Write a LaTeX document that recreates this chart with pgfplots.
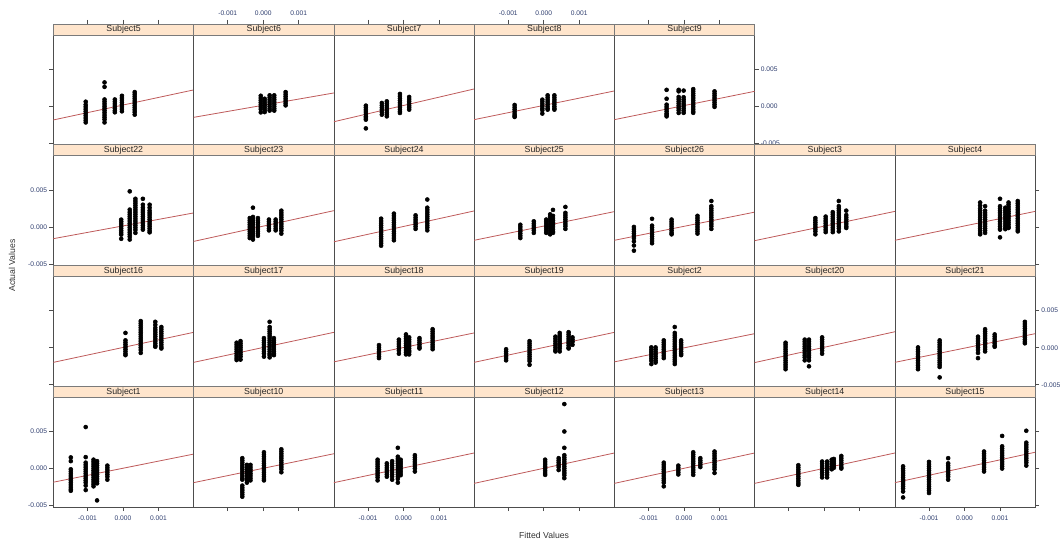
\documentclass[border=0pt]{standalone}
\usepackage{fontspec}
\setmainfont{Liberation Sans}
\usepackage{pgfplots}
\pgfplotsset{compat=1.18}
\definecolor{stripf}{HTML}{FFE5CC}
\definecolor{stripb}{HTML}{7A7A7A}
\definecolor{regline}{HTML}{BE5A5A}
\definecolor{frame}{HTML}{4D4D4D}
\definecolor{tlab}{HTML}{2E3D6E}
% values are in units of 1e-3 (tick labels written in original units)
\pgfplotsset{
 panel/.style={scale only axis, width=105.19pt, height=82.28pt, anchor=south west,
  xmin=-1.96, xmax=1.99, ymin=-5.2, ymax=9.6,
  xtick={-1,0,1}, ytick={-5,0,5}, xticklabels={}, yticklabels={},
  tick align=outside, major tick length=3pt,
  axis line style={frame, line width=0.6pt}, every tick/.style={frame, line width=0.5pt},
  tick label style={font=\fontsize{5}{6}\selectfont, text=tlab},
  xticklabel style={inner sep=1.5pt}, yticklabel style={inner sep=1.5pt},
  clip=false},
 noX/.style={xtick=\empty},
 noY/.style={ytick=\empty},
 tT/.style={xtick pos=top, xtick style={yshift=8.25pt}},
 tL/.style={xtick pos=top, xtick style={yshift=8.25pt}, xticklabel pos=top, xticklabel shift=10.2pt, xticklabels={-0.001,0.000,0.001}},
 bT/.style={xtick pos=bottom},
 bL/.style={xtick pos=bottom, xticklabel pos=bottom, xticklabel shift=2.2pt, xticklabels={-0.001,0.000,0.001}},
 lT/.style={ytick pos=left},
 lL/.style={ytick pos=left, yticklabel pos=left, yticklabels={-0.005,0.000,0.005}},
 rT/.style={ytick pos=right},
 rL/.style={ytick pos=right, yticklabel pos=right, yticklabels={-0.005,0.000,0.005}},
}
\newcommand{\panel}[6]{%
\begin{axis}[panel, at={(#1,#2)}, #4,
  extra description/.code={\draw[stripb, fill=stripf, line width=0.5pt] (0,1) rectangle (1,1.1003);
  \node[font=\fontsize{6.6}{7}\selectfont, inner sep=0pt, text=black!85] at (0.5,1.0501) {#3};}]
\addplot[only marks, mark=*, mark size=1.5pt, black] coordinates {#6};
\addplot[regline, line width=0.6pt] coordinates {#5};
\end{axis}}
\begin{document}
\begin{tikzpicture}
\path (0,0) rectangle (798pt,408pt);
% ---------------- row 1 ----------------
\panel{40.05pt}{299.48pt}{Subject5}{tT,lT}{(-1.96,-1.86)(1.99,2.19)}{
(-1.05,0.6)(-1.05,0.2)(-1.05,-0.1)(-1.05,-0.4)(-1.05,-0.7)(-1.05,-1.0)(-1.05,-1.3)(-1.05,-1.6)(-1.05,-1.9)(-1.05,-2.2)
(-0.52,3.2)(-0.52,2.6)(-0.52,0.9)(-0.52,0.6)(-0.52,0.3)(-0.52,0)(-0.52,-0.3)(-0.52,-0.6)(-0.52,-0.9)(-0.52,-1.2)(-0.52,-1.5)(-0.52,-1.8)(-0.52,-2.2)
(-0.23,0.9)(-0.23,0.6)(-0.23,0.3)(-0.23,0)(-0.23,-0.3)(-0.23,-0.6)(-0.23,-0.83)
(-0.03,1.4)(-0.03,1.1)(-0.03,0.8)(-0.03,0.5)(-0.03,0.2)(-0.03,-0.1)(-0.03,-0.4)(-0.03,-0.7)
(0.33,1.9)(0.33,1.6)(0.33,1.3)(0.33,1.0)(0.33,0.7)(0.33,0.4)(0.33,0.1)(0.33,-0.2)(0.33,-0.5)(0.33,-0.8)(0.33,-1.15)}
\panel{145.24pt}{299.48pt}{Subject6}{tL,noY}{(-1.96,-1.51)(1.99,1.78)}{
(-0.07,1.4)(-0.07,1.1)(-0.07,0.8)(-0.07,0.5)(-0.07,0.2)(-0.07,-0.1)(-0.07,-0.4)(-0.07,-0.84)
(0.04,1.0)(0.04,0.7)(0.04,0.4)(0.04,0.1)(0.04,-0.2)(0.04,-0.5)(0.04,-0.8)
(0.18,1.46)(0.18,1.15)(0.18,0.85)(0.18,0.55)(0.18,0.25)(0.18,-0.05)(0.18,-0.35)(0.18,-0.6)
(0.31,1.46)(0.31,1.15)(0.31,0.85)(0.31,0.55)(0.31,0.25)(0.31,-0.05)(0.31,-0.35)(0.31,-0.6)
(0.63,1.9)(0.63,1.6)(0.63,1.3)(0.63,1.0)(0.63,0.7)(0.63,0.4)(0.63,0.1)}
\panel{250.43pt}{299.48pt}{Subject7}{tT,noY}{(-1.96,-2.1)(1.99,2.32)}{
(-1.06,0.07)(-1.06,-0.2)(-1.06,-0.5)(-1.06,-0.8)(-1.06,-1.1)(-1.06,-1.4)(-1.06,-1.6)(-1.06,-1.82)(-1.06,-3.0)
(-0.61,0.43)(-0.61,0.1)(-0.61,-0.2)(-0.61,-0.5)(-0.61,-0.8)(-0.61,-1.15)
(-0.47,0.65)(-0.47,0.35)(-0.47,0.05)(-0.47,-0.25)(-0.47,-0.55)(-0.47,-0.85)(-0.47,-1.1)(-0.47,-1.38)
(-0.10,1.65)(-0.10,1.35)(-0.10,1.05)(-0.10,0.75)(-0.10,0.45)(-0.10,0.15)(-0.10,-0.15)(-0.10,-0.45)(-0.10,-0.7)(-0.10,-0.92)
(0.16,1.24)(0.16,0.95)(0.16,0.65)(0.16,0.35)(0.16,0.05)(0.16,-0.2)(0.16,-0.47)}
\panel{355.61pt}{299.48pt}{Subject8}{tL,noY}{(-1.96,-1.82)(1.99,2.05)}{
(-0.82,0.16)(-0.82,-0.15)(-0.82,-0.45)(-0.82,-0.75)(-0.82,-1.05)(-0.82,-1.3)(-0.82,-1.46)
(-0.04,0.88)(-0.04,0.6)(-0.04,0.3)(-0.04,0)(-0.04,-0.3)(-0.04,-0.55)(-0.04,-1.0)
(0.11,1.46)(0.11,1.15)(0.11,0.85)(0.11,0.55)(0.11,0.25)(0.11,-0.05)(0.11,-0.3)(0.11,-0.47)
(0.30,1.46)(0.30,1.15)(0.30,0.85)(0.30,0.55)(0.30,0.25)(0.30,-0.05)(0.30,-0.3)(0.30,-0.47)}
\panel{460.8pt}{299.48pt}{Subject9}{tT,rL}{(-1.96,-1.82)(1.99,2.0)}{
(-0.49,2.2)(-0.49,1.0)(-0.49,0.2)(-0.49,-0.1)(-0.49,-0.4)(-0.49,-0.7)(-0.49,-1.0)(-0.49,-1.2)(-0.49,-1.38)
(-0.15,2.2)(-0.15,2.0)(-0.15,1.24)(-0.15,0.95)(-0.15,0.65)(-0.15,0.35)(-0.15,0.05)(-0.15,-0.25)(-0.15,-0.55)(-0.15,-0.92)
(-0.01,2.1)(-0.01,1.2)(-0.01,0.9)(-0.01,0.6)(-0.01,0.3)(-0.01,0)(-0.01,-0.3)(-0.01,-0.6)(-0.01,-0.9)
(0.26,2.3)(0.26,2.0)(0.26,1.7)(0.26,1.4)(0.26,1.1)(0.26,0.8)(0.26,0.5)(0.26,0.2)(0.26,-0.1)(0.26,-0.4)(0.26,-0.7)(0.26,-0.9)
(0.86,2.0)(0.86,1.7)(0.86,1.4)(0.86,1.1)(0.86,0.8)(0.86,0.5)(0.86,0.2)(0.86,-0.1)}
% ---------------- row 2 ----------------
\panel{40.05pt}{208.88pt}{Subject22}{noX,lL}{(-1.96,-1.58)(1.99,1.89)}{
(-0.05,0.99)(-0.05,0.7)(-0.05,0.4)(-0.05,0.1)(-0.05,-0.2)(-0.05,-0.5)(-0.05,-0.8)(-0.05,-1.04)(-0.05,-1.6)
(0.19,4.8)(0.19,2.34)(0.19,2.0)(0.19,1.7)(0.19,1.4)(0.19,1.1)(0.19,0.8)(0.19,0.5)(0.19,0.2)(0.19,-0.1)(0.19,-0.4)(0.19,-0.7)(0.19,-1.0)(0.19,-1.3)(0.19,-1.7)
(0.35,3.8)(0.35,3.5)(0.35,3.2)(0.35,2.9)(0.35,2.6)(0.35,2.3)(0.35,2.0)(0.35,1.7)(0.35,1.4)(0.35,1.1)(0.35,0.8)(0.35,0.5)(0.35,0.2)(0.35,-0.1)(0.35,-0.4)(0.35,-0.8)
(0.56,3.8)(0.56,3.0)(0.56,2.6)(0.56,2.3)(0.56,2.0)(0.56,1.7)(0.56,1.4)(0.56,1.1)(0.56,0.8)(0.56,0.5)(0.56,0.2)(0.56,-0.1)(0.56,-0.36)
(0.75,3.0)(0.75,2.6)(0.75,2.2)(0.75,1.9)(0.75,1.6)(0.75,1.3)(0.75,1.0)(0.75,0.7)(0.75,0.4)(0.75,0.1)(0.75,-0.2)(0.75,-0.5)(0.75,-0.73)}
\panel{145.24pt}{208.88pt}{Subject23}{noX,noY}{(-1.96,-1.95)(1.99,2.2)}{
(-0.38,1.2)(-0.38,0.9)(-0.38,0.6)(-0.38,0.3)(-0.38,0)(-0.38,-0.3)(-0.38,-0.6)(-0.38,-0.9)(-0.38,-1.2)(-0.38,-1.5)
(-0.29,2.6)(-0.29,1.35)(-0.29,1.05)(-0.29,0.75)(-0.29,0.45)(-0.29,0.15)(-0.29,-0.15)(-0.29,-0.45)(-0.29,-0.75)(-0.29,-1.05)(-0.29,-1.35)(-0.29,-1.7)
(-0.15,1.2)(-0.15,0.9)(-0.15,0.6)(-0.15,0.3)(-0.15,0)(-0.15,-0.3)(-0.15,-0.6)(-0.15,-0.9)(-0.15,-1.2)
(0.16,1.0)(0.16,0.7)(0.16,0.4)(0.16,0.1)(0.16,-0.2)(0.16,-0.46)
(0.35,1.0)(0.35,0.7)(0.35,0.4)(0.35,0.1)(0.35,-0.2)(0.35,-0.46)
(0.51,2.2)(0.51,1.9)(0.51,1.6)(0.51,1.3)(0.51,1.0)(0.51,0.7)(0.51,0.4)(0.51,0.1)(0.51,-0.2)(0.51,-0.5)(0.51,-0.9)}
\panel{250.43pt}{208.88pt}{Subject24}{noX,noY}{(-1.96,-2.0)(1.99,2.16)}{
(-0.63,1.12)(-0.63,0.8)(-0.63,0.5)(-0.63,0.2)(-0.63,-0.1)(-0.63,-0.4)(-0.63,-0.7)(-0.63,-1.0)(-0.63,-1.3)(-0.63,-1.6)(-0.63,-1.9)(-0.63,-2.2)(-0.63,-2.53)
(-0.27,1.8)(-0.27,1.5)(-0.27,1.2)(-0.27,0.9)(-0.27,0.6)(-0.27,0.3)(-0.27,0)(-0.27,-0.3)(-0.27,-0.6)(-0.27,-0.9)(-0.27,-1.2)(-0.27,-1.5)(-0.27,-1.8)
(0.34,1.57)(0.34,1.25)(0.34,0.95)(0.34,0.65)(0.34,0.35)(0.34,0.05)(0.34,-0.27)
(0.67,3.7)(0.67,2.6)(0.67,2.3)(0.67,2.0)(0.67,1.7)(0.67,1.4)(0.67,1.1)(0.67,0.8)(0.67,0.5)(0.67,0.2)(0.67,-0.1)(0.67,-0.46)}
\panel{355.61pt}{208.88pt}{Subject25}{noX,noY}{(-1.96,-1.8)(1.99,2.07)}{
(-0.66,0.3)(-0.66,0)(-0.66,-0.3)(-0.66,-0.6)(-0.66,-0.9)(-0.66,-1.2)(-0.66,-1.5)
(-0.28,0.76)(-0.28,0.45)(-0.28,0.15)(-0.28,-0.15)(-0.28,-0.45)(-0.28,-0.8)
(0.07,1.0)(0.07,0.7)(0.07,0.4)(0.07,0.1)(0.07,-0.2)(0.07,-0.5)(0.07,-0.8)
(0.18,1.7)(0.18,1.4)(0.18,1.1)(0.18,0.8)(0.18,0.5)(0.18,0.2)(0.18,-0.1)(0.18,-0.4)(0.18,-0.7)(0.18,-1.0)
(0.26,2.3)(0.26,1.5)(0.26,1.2)(0.26,0.9)(0.26,0.6)(0.26,0.3)(0.26,0)(0.26,-0.3)(0.26,-0.6)(0.26,-0.8)
(0.61,2.7)(0.61,1.9)(0.61,1.6)(0.61,1.3)(0.61,1.0)(0.61,0.7)(0.61,0.4)(0.61,0.1)(0.61,-0.27)}
\panel{460.8pt}{208.88pt}{Subject26}{noX,noY}{(-1.96,-1.8)(1.99,2.0)}{
(-1.41,0)(-1.41,-0.3)(-1.41,-0.6)(-1.41,-0.9)(-1.41,-1.2)(-1.41,-1.5)(-1.41,-1.94)(-1.41,-2.5)(-1.41,-3.2)
(-0.90,1.1)(-0.90,0.18)(-0.90,-0.1)(-0.90,-0.4)(-0.90,-0.7)(-0.90,-1.0)(-0.90,-1.3)(-0.90,-1.6)(-0.90,-1.9)(-0.90,-2.2)
(-0.35,1.0)(-0.35,0.7)(-0.35,0.4)(-0.35,0.1)(-0.35,-0.2)(-0.35,-0.5)(-0.35,-0.8)(-0.35,-1.0)
(0.38,1.5)(0.38,1.2)(0.38,0.9)(0.38,0.6)(0.38,0.3)(0.38,0)(0.38,-0.3)(0.38,-0.6)(0.38,-0.9)
(0.77,3.5)(0.77,2.8)(0.77,2.5)(0.77,2.2)(0.77,1.9)(0.77,1.6)(0.77,1.3)(0.77,1.0)(0.77,0.7)(0.77,0.4)(0.77,0.1)(0.77,-0.27)}
\panel{565.99pt}{208.88pt}{Subject3}{noX,noY}{(-1.96,-1.85)(1.99,2.1)}{
(-0.25,1.2)(-0.25,0.9)(-0.25,0.6)(-0.25,0.3)(-0.25,0)(-0.25,-0.3)(-0.25,-0.6)(-0.25,-1.0)
(0.04,1.4)(0.04,1.1)(0.04,0.8)(0.04,0.5)(0.04,0.2)(0.04,-0.1)(0.04,-0.4)(0.04,-0.7)
(0.24,2.0)(0.24,1.7)(0.24,1.4)(0.24,1.1)(0.24,0.8)(0.24,0.5)(0.24,0.2)(0.24,-0.1)(0.24,-0.4)(0.24,-0.7)
(0.41,3.5)(0.41,2.8)(0.41,2.5)(0.41,2.2)(0.41,1.9)(0.41,1.6)(0.41,1.3)(0.41,1.0)(0.41,0.7)(0.41,0.4)(0.41,0.1)(0.41,-0.2)(0.41,-0.6)
(0.62,2.2)(0.62,1.6)(0.62,1.3)(0.62,1.0)(0.62,0.7)(0.62,0.4)(0.62,0.1)(0.62,-0.14)}
\panel{671.18pt}{208.88pt}{Subject4}{noX,rT}{(-1.96,-1.8)(1.99,2.1)}{
(0.44,3.3)(0.44,2.9)(0.44,2.5)(0.44,2.2)(0.44,1.9)(0.44,1.6)(0.44,1.3)(0.44,1.0)(0.44,0.7)(0.44,0.4)(0.44,0.1)(0.44,-0.2)(0.44,-0.5)(0.44,-0.8)(0.44,-1.0)
(0.58,2.8)(0.58,2.2)(0.58,1.9)(0.58,1.6)(0.58,1.3)(0.58,1.0)(0.58,0.7)(0.58,0.4)(0.58,0.1)(0.58,-0.2)(0.58,-0.5)(0.58,-0.8)
(1.00,3.8)(1.00,2.8)(1.00,2.5)(1.00,2.2)(1.00,1.9)(1.00,1.6)(1.00,1.3)(1.00,1.0)(1.00,0.7)(1.00,0.4)(1.00,0.1)(1.00,-0.2)(1.00,-0.36)(1.00,-1.4)
(1.15,2.6)(1.15,2.3)(1.15,2.0)(1.15,1.7)(1.15,1.4)(1.15,1.1)(1.15,0.8)(1.15,0.5)(1.15,0.2)(1.15,-0.1)(1.15,-0.3)
(1.24,3.3)(1.24,3.0)(1.24,2.7)(1.24,2.4)(1.24,2.1)(1.24,1.8)(1.24,1.5)(1.24,1.2)(1.24,0.9)(1.24,0.6)(1.24,0.3)(1.24,0)(1.24,-0.14)
(1.50,3.5)(1.50,3.2)(1.50,2.9)(1.50,2.6)(1.50,2.3)(1.50,2.0)(1.50,1.7)(1.50,1.4)(1.50,1.1)(1.50,0.8)(1.50,0.5)(1.50,0.2)(1.50,-0.1)(1.50,-0.4)(1.50,-0.6)}
% ---------------- row 3 ----------------
\panel{40.05pt}{118.28pt}{Subject16}{noX,lT}{(-1.96,-1.97)(1.99,2.08)}{
(0.07,2.0)(0.07,1.0)(0.07,0.7)(0.07,0.4)(0.07,0.1)(0.07,-0.2)(0.07,-0.5)(0.07,-0.8)(0.07,-1.0)
(0.50,3.6)(0.50,3.3)(0.50,3.0)(0.50,2.7)(0.50,2.4)(0.50,2.1)(0.50,1.8)(0.50,1.5)(0.50,1.2)(0.50,0.9)(0.50,0.6)(0.50,0.3)(0.50,0)(0.50,-0.3)(0.50,-0.7)
(0.91,3.5)(0.91,3.1)(0.91,2.7)(0.91,2.4)(0.91,2.1)(0.91,1.8)(0.91,1.5)(0.91,1.2)(0.91,0.9)(0.91,0.6)(0.91,0.3)(0.91,0.13)
(1.08,2.8)(1.08,2.5)(1.08,2.2)(1.08,1.9)(1.08,1.6)(1.08,1.3)(1.08,1.0)(1.08,0.7)(1.08,0.4)(1.08,0.1)(1.08,-0.1)}
\panel{145.24pt}{118.28pt}{Subject17}{noX,noY}{(-1.96,-1.97)(1.99,2.08)}{
(-0.75,0.68)(-0.75,0.4)(-0.75,0.1)(-0.75,-0.2)(-0.75,-0.5)(-0.75,-0.8)(-0.75,-1.1)(-0.75,-1.4)(-0.75,-1.66)
(-0.64,0.9)(-0.64,0.6)(-0.64,0.3)(-0.64,0)(-0.64,-0.3)(-0.64,-0.6)(-0.64,-0.9)(-0.64,-1.2)(-0.64,-1.6)
(0.02,1.3)(0.02,1.0)(0.02,0.7)(0.02,0.4)(0.02,0.1)(0.02,-0.2)(0.02,-0.5)(0.02,-0.8)(0.02,-1.2)
(0.18,3.5)(0.18,2.8)(0.18,2.5)(0.18,2.2)(0.18,1.9)(0.18,1.6)(0.18,1.3)(0.18,1.0)(0.18,0.7)(0.18,0.4)(0.18,0.1)(0.18,-0.2)(0.18,-0.5)(0.18,-0.8)(0.18,-1.0)(0.18,-1.3)
(0.30,1.3)(0.30,1.0)(0.30,0.7)(0.30,0.4)(0.30,0.1)(0.30,-0.2)(0.30,-0.5)(0.30,-0.8)(0.30,-1.0)}
\panel{250.43pt}{118.28pt}{Subject18}{noX,noY}{(-1.96,-1.9)(1.99,2.0)}{
(-0.69,0.36)(-0.69,0.05)(-0.69,-0.25)(-0.69,-0.55)(-0.69,-0.85)(-0.69,-1.15)(-0.69,-1.4)
(-0.13,1.1)(-0.13,0.8)(-0.13,0.5)(-0.13,0.2)(-0.13,-0.1)(-0.13,-0.4)(-0.13,-0.8)
(0.07,1.8)(0.07,1.5)(0.07,1.2)(0.07,0.9)(0.07,0.6)(0.07,0.3)(0.07,0)(0.07,-0.3)(0.07,-0.6)(0.07,-0.9)
(0.16,1.4)(0.16,1.1)(0.16,0.8)(0.16,0.5)(0.16,0.2)(0.16,-0.1)(0.16,-0.4)(0.16,-0.6)(0.16,-0.9)
(0.45,1.3)(0.45,1.0)(0.45,0.7)(0.45,0.4)(0.45,0.1)(0.45,-0.1)
(0.82,2.5)(0.82,2.2)(0.82,1.9)(0.82,1.6)(0.82,1.3)(0.82,1.0)(0.82,0.7)(0.82,0.4)(0.82,0.1)(0.82,-0.2)}
\panel{355.61pt}{118.28pt}{Subject19}{noX,noY}{(-1.96,-1.97)(1.99,2.08)}{
(-1.06,-0.2)(-1.06,-0.5)(-1.06,-0.8)(-1.06,-1.1)(-1.06,-1.4)(-1.06,-1.7)
(-0.40,0.9)(-0.40,0.6)(-0.40,0.3)(-0.40,0)(-0.40,-0.3)(-0.40,-0.6)(-0.40,-0.9)(-0.40,-1.2)(-0.40,-1.5)(-0.40,-1.8)(-0.40,-2.3)
(0.33,1.5)(0.33,1.2)(0.33,0.9)(0.33,0.6)(0.33,0.3)(0.33,0)(0.33,-0.3)(0.33,-0.5)
(0.45,2.0)(0.45,1.7)(0.45,1.4)(0.45,1.1)(0.45,0.8)(0.45,0.5)(0.45,0.2)(0.45,-0.1)(0.45,-0.5)
(0.70,2.1)(0.70,1.8)(0.70,1.5)(0.70,1.2)(0.70,0.9)(0.70,0.6)(0.70,0.3)(0.70,0)(0.70,-0.1)
(0.81,1.4)(0.81,1.1)(0.81,0.8)(0.81,0.4)}
\panel{460.8pt}{118.28pt}{Subject2}{noX,noY}{(-1.96,-1.9)(1.99,1.9)}{
(-0.92,0.05)(-0.92,-0.25)(-0.92,-0.55)(-0.92,-0.85)(-0.92,-1.15)(-0.92,-1.45)(-0.92,-1.75)(-0.92,-2.2)
(-0.80,0.05)(-0.80,-0.25)(-0.80,-0.55)(-0.80,-0.85)(-0.80,-1.15)(-0.80,-1.45)(-0.80,-1.75)(-0.80,-2.0)
(-0.57,1.0)(-0.57,0.7)(-0.57,0.4)(-0.57,0.1)(-0.57,-0.2)(-0.57,-0.5)(-0.57,-0.8)(-0.57,-1.1)(-0.57,-1.4)
(-0.26,2.8)(-0.26,2.0)(-0.26,1.7)(-0.26,1.4)(-0.26,1.1)(-0.26,0.8)(-0.26,0.5)(-0.26,0.2)(-0.26,-0.1)(-0.26,-0.4)(-0.26,-0.7)(-0.26,-1.0)(-0.26,-1.3)(-0.26,-1.6)(-0.26,-1.9)(-0.26,-2.2)
(-0.08,1.0)(-0.08,0.7)(-0.08,0.4)(-0.08,0.1)(-0.08,-0.2)(-0.08,-0.5)(-0.08,-0.8)(-0.08,-1.0)}
\panel{565.99pt}{118.28pt}{Subject20}{noX,noY}{(-1.96,-2.0)(1.99,2.16)}{
(-1.09,0.68)(-1.09,0.4)(-1.09,0.1)(-1.09,-0.2)(-1.09,-0.5)(-1.09,-0.8)(-1.09,-1.1)(-1.09,-1.4)(-1.09,-1.7)(-1.09,-2.0)(-1.09,-2.3)(-1.09,-2.6)(-1.09,-2.9)
(-0.55,1.1)(-0.55,0.8)(-0.55,0.5)(-0.55,0.2)(-0.55,-0.1)(-0.55,-0.4)(-0.55,-0.7)(-0.55,-1.0)(-0.55,-1.3)(-0.55,-1.7)
(-0.43,1.1)(-0.43,0.8)(-0.43,0.5)(-0.43,0.2)(-0.43,-0.1)(-0.43,-0.4)(-0.43,-0.7)(-0.43,-1.0)(-0.43,-1.3)(-0.43,-1.7)(-0.43,-2.5)
(-0.06,1.4)(-0.06,1.1)(-0.06,0.8)(-0.06,0.5)(-0.06,0.2)(-0.06,-0.1)(-0.06,-0.4)(-0.06,-0.8)}
\panel{671.18pt}{118.28pt}{Subject21}{noX,rL}{(-1.96,-1.97)(1.99,1.9)}{
(-1.31,0.05)(-1.31,-0.25)(-1.31,-0.55)(-1.31,-0.85)(-1.31,-1.15)(-1.31,-1.45)(-1.31,-1.75)(-1.31,-2.05)(-1.31,-2.35)(-1.31,-2.65)(-1.31,-2.9)
(-0.70,1.0)(-0.70,0.7)(-0.70,0.4)(-0.70,0.1)(-0.70,-0.2)(-0.70,-0.5)(-0.70,-0.8)(-0.70,-1.1)(-0.70,-1.4)(-0.70,-1.7)(-0.70,-2.0)(-0.70,-2.3)(-0.70,-2.6)(-0.70,-4.0)
(0.38,1.5)(0.38,1.2)(0.38,0.9)(0.38,0.6)(0.38,0.3)(0.38,0)(0.38,-0.3)(0.38,-0.7)(0.38,-1.4)
(0.58,2.5)(0.58,2.2)(0.58,1.9)(0.58,1.6)(0.58,1.3)(0.58,1.0)(0.58,0.7)(0.58,0.4)(0.58,0.1)(0.58,-0.2)(0.58,-0.5)
(0.85,1.8)(0.85,1.5)(0.85,1.2)(0.85,0.9)(0.85,0.6)(0.85,0.3)(0.85,0.13)
(1.70,3.5)(1.70,3.2)(1.70,2.9)(1.70,2.6)(1.70,2.3)(1.70,2.0)(1.70,1.7)(1.70,1.4)(1.70,1.1)(1.70,0.8)(1.70,0.6)}
% ---------------- row 4 ----------------
\panel{40.05pt}{27.68pt}{Subject1}{bL,lL}{(-1.96,-1.84)(1.99,1.95)}{
(-1.47,1.5)(-1.47,1.0)(-1.47,-0.1)(-1.47,-0.4)(-1.47,-0.7)(-1.47,-1.0)(-1.47,-1.3)(-1.47,-1.6)(-1.47,-1.9)(-1.47,-2.2)(-1.47,-2.5)(-1.47,-2.8)(-1.47,-3.0)
(-1.05,5.6)(-1.05,1.54)(-1.05,0.8)(-1.05,0.5)(-1.05,0.2)(-1.05,-0.1)(-1.05,-0.4)(-1.05,-0.7)(-1.05,-1.0)(-1.05,-1.3)(-1.05,-1.6)(-1.05,-1.9)(-1.05,-2.3)(-1.05,-2.9)
(-0.83,1.2)(-0.83,0.9)(-0.83,0.6)(-0.83,0.3)(-0.83,0)(-0.83,-0.3)(-0.83,-0.6)(-0.83,-0.9)(-0.83,-1.2)(-0.83,-1.5)(-0.83,-1.8)(-0.83,-2.1)(-0.83,-2.4)
(-0.73,1.0)(-0.73,0.7)(-0.73,0.4)(-0.73,0.1)(-0.73,-0.2)(-0.73,-0.5)(-0.73,-0.8)(-0.73,-1.1)(-0.73,-1.4)(-0.73,-1.7)(-0.73,-2.0)(-0.73,-4.3)
(-0.44,0.4)(-0.44,0.1)(-0.44,-0.2)(-0.44,-0.5)(-0.44,-0.8)(-0.44,-1.1)(-0.44,-1.5)}
\panel{145.24pt}{27.68pt}{Subject10}{bT,noY}{(-1.96,-1.9)(1.99,2.0)}{
(-0.59,1.4)(-0.59,1.1)(-0.59,0.8)(-0.59,0.5)(-0.59,0.2)(-0.59,-0.1)(-0.59,-0.4)(-0.59,-0.7)(-0.59,-1.0)(-0.59,-1.3)(-0.59,-1.5)(-0.59,-2.3)(-0.59,-2.6)(-0.59,-2.9)(-0.59,-3.2)(-0.59,-3.5)(-0.59,-3.8)
(-0.46,0.5)(-0.46,0.2)(-0.46,-0.1)(-0.46,-0.4)(-0.46,-0.7)(-0.46,-1.0)(-0.46,-1.3)(-0.46,-1.6)(-0.46,-1.9)
(-0.36,0.5)(-0.36,0.2)(-0.36,-0.1)(-0.36,-0.4)(-0.36,-0.7)(-0.36,-1.0)(-0.36,-1.3)(-0.36,-1.6)
(0.02,2.2)(0.02,1.9)(0.02,1.6)(0.02,1.3)(0.02,1.0)(0.02,0.7)(0.02,0.4)(0.02,0.1)(0.02,-0.2)(0.02,-0.5)(0.02,-0.8)(0.02,-1.1)(0.02,-1.4)(0.02,-1.6)
(0.51,2.6)(0.51,2.3)(0.51,2.0)(0.51,1.7)(0.51,1.4)(0.51,1.1)(0.51,0.8)(0.51,0.5)(0.51,0.2)(0.51,-0.1)(0.51,-0.5)}
\panel{250.43pt}{27.68pt}{Subject11}{bL,noY}{(-1.96,-1.9)(1.99,2.1)}{
(-0.73,1.2)(-0.73,0.9)(-0.73,0.6)(-0.73,0.3)(-0.73,0)(-0.73,-0.3)(-0.73,-0.6)(-0.73,-0.9)(-0.73,-1.2)(-0.73,-1.6)
(-0.47,0.7)(-0.47,0.4)(-0.47,0.1)(-0.47,-0.2)(-0.47,-0.5)(-0.47,-0.8)(-0.47,-1.1)
(-0.32,1.0)(-0.32,0.7)(-0.32,0.4)(-0.32,0.1)(-0.32,-0.2)(-0.32,-0.5)(-0.32,-0.8)(-0.32,-1.1)(-0.32,-1.5)
(-0.16,2.8)(-0.16,1.6)(-0.16,1.3)(-0.16,1.0)(-0.16,0.7)(-0.16,0.4)(-0.16,0.1)(-0.16,-0.2)(-0.16,-0.5)(-0.16,-0.8)(-0.16,-1.1)(-0.16,-1.4)(-0.16,-1.9)
(-0.08,1.2)(-0.08,0.9)(-0.08,0.6)(-0.08,0.3)(-0.08,0)(-0.08,-0.3)(-0.08,-0.6)(-0.08,-0.9)
(0.32,1.8)(0.32,1.5)(0.32,1.2)(0.32,0.9)(0.32,0.6)(0.32,0.3)(0.32,0)(0.32,-0.4)}
\panel{355.61pt}{27.68pt}{Subject12}{bT,noY}{(-1.96,-2.0)(1.99,2.1)}{
(0.04,1.2)(0.04,0.9)(0.04,0.6)(0.04,0.3)(0.04,0)(0.04,-0.3)(0.04,-0.6)(0.04,-0.85)
(0.42,1.4)(0.42,1.1)(0.42,0.8)(0.42,0.5)(0.42,0.2)(0.42,-0.2)
(0.58,8.7)(0.58,5.0)(0.58,2.8)(0.58,1.8)(0.58,1.5)(0.58,1.2)(0.58,0.9)(0.58,0.6)(0.58,0.3)(0.58,0)(0.58,-0.3)(0.58,-0.6)(0.58,-0.9)(0.58,-1.3)}
\panel{460.8pt}{27.68pt}{Subject13}{bL,noY}{(-1.96,-2.0)(1.99,2.1)}{
(-0.57,0.8)(-0.57,0.5)(-0.57,0.2)(-0.57,-0.1)(-0.57,-0.4)(-0.57,-0.7)(-0.57,-1.0)(-0.57,-1.3)(-0.57,-1.6)(-0.57,-1.9)(-0.57,-2.4)
(-0.16,0.4)(-0.16,0.1)(-0.16,-0.2)(-0.16,-0.5)(-0.16,-0.8)
(0.26,2.2)(0.26,1.9)(0.26,1.6)(0.26,1.3)(0.26,1.0)(0.26,0.7)(0.26,0.4)(0.26,0.1)(0.26,-0.2)(0.26,-0.5)(0.26,-0.85)
(0.46,1.4)(0.46,1.1)(0.46,0.8)(0.46,0.5)(0.46,0.2)
(0.86,2.3)(0.86,2.0)(0.86,1.7)(0.86,1.4)(0.86,1.1)(0.86,0.8)(0.86,0.5)(0.86,0.2)(0.86,-0.1)(0.86,-0.6)}
\panel{565.99pt}{27.68pt}{Subject14}{bT,noY}{(-1.96,-2.0)(1.99,2.1)}{
(-0.73,0.45)(-0.73,0.15)(-0.73,-0.15)(-0.73,-0.45)(-0.73,-0.75)(-0.73,-1.05)(-0.73,-1.35)(-0.73,-1.65)(-0.73,-1.95)(-0.73,-2.2)
(-0.06,0.95)(-0.06,0.65)(-0.06,0.35)(-0.06,0.05)(-0.06,-0.25)(-0.06,-0.55)(-0.06,-0.85)(-0.06,-1.2)
(0.08,0.95)(0.08,0.65)(0.08,0.35)(0.08,0.05)(0.08,-0.25)(0.08,-0.55)(0.08,-0.85)(0.08,-1.2)
(0.21,1.2)(0.21,0.9)(0.21,0.6)(0.21,0.3)(0.21,0)(0.21,-0.1)
(0.27,1.3)(0.27,1.0)(0.27,0.7)(0.27,0.4)(0.27,0.1)
(0.48,1.7)(0.48,1.4)(0.48,1.1)(0.48,0.8)(0.48,0.5)(0.48,0.2)(0.48,0)}
\panel{671.18pt}{27.68pt}{Subject15}{bL,rT}{(-1.96,-1.9)(1.99,2.2)}{
(-1.73,0.3)(-1.73,0)(-1.73,-0.3)(-1.73,-0.6)(-1.73,-0.9)(-1.73,-1.2)(-1.73,-1.5)(-1.73,-1.8)(-1.73,-2.1)(-1.73,-2.4)(-1.73,-2.7)(-1.73,-3.1)(-1.73,-3.9)
(-1.00,0.9)(-1.00,0.6)(-1.00,0.3)(-1.00,0)(-1.00,-0.3)(-1.00,-0.6)(-1.00,-0.9)(-1.00,-1.2)(-1.00,-1.5)(-1.00,-1.8)(-1.00,-2.1)(-1.00,-2.4)(-1.00,-2.7)(-1.00,-3.0)(-1.00,-3.3)
(-0.46,1.4)(-0.46,0.7)(-0.46,0.4)(-0.46,0.1)(-0.46,-0.2)(-0.46,-0.5)(-0.46,-0.8)(-0.46,-1.1)(-0.46,-1.5)
(0.55,2.3)(0.55,2.0)(0.55,1.7)(0.55,1.4)(0.55,1.1)(0.55,0.8)(0.55,0.5)(0.55,0.2)(0.55,-0.1)(0.55,-0.4)
(1.06,4.4)(1.06,3.0)(1.06,2.7)(1.06,2.4)(1.06,2.1)(1.06,1.8)(1.06,1.5)(1.06,1.2)(1.06,0.9)(1.06,0.6)(1.06,0.3)(1.06,0)
(1.74,5.1)(1.74,3.5)(1.74,3.2)(1.74,2.9)(1.74,2.6)(1.74,2.3)(1.74,2.0)(1.74,1.7)(1.74,1.4)(1.74,1.1)(1.74,0.8)(1.74,0.4)}
% axis titles
\node[rotate=90, font=\fontsize{6.5}{8}\selectfont, text=black!80] at (9pt,208.9pt) {Actual Values};
\node[font=\fontsize{6.5}{8}\selectfont, text=black!80] at (408pt,6.4pt) {Fitted Values};
\end{tikzpicture}
\end{document}
